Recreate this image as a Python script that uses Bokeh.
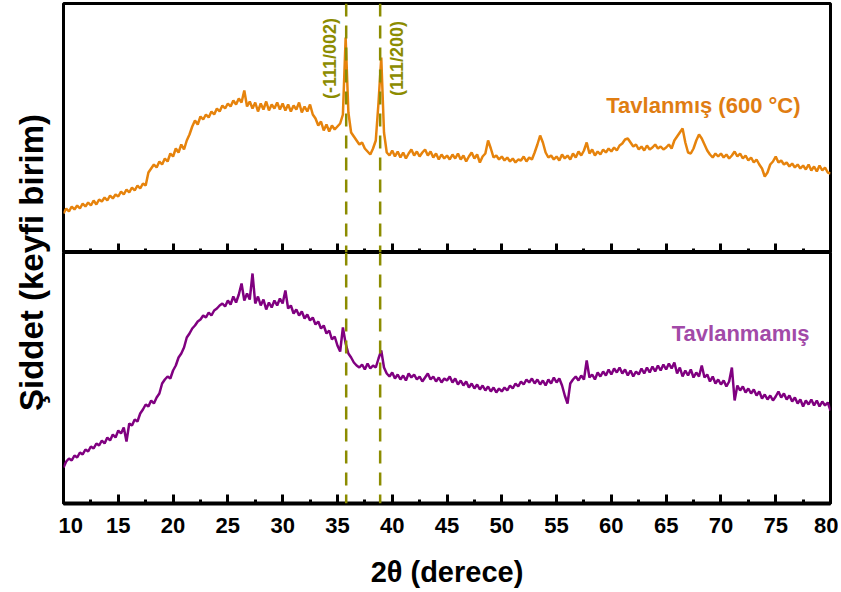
import numpy as np
from bokeh.plotting import figure
from bokeh.layouts import column, row
from bokeh.models import Span, Range1d, FixedTicker
from bokeh.core.properties import value
from bokeh.embed import file_html
from bokeh.resources import INLINE

# ---------------- data ----------------
two_theta = np.arange(10, 80.001, 0.25)

annealed_600C = [
    39, 44, 41, 46, 43, 47, 44, 49, 46, 50, 47, 52, 48, 53, 51, 55, 52, 57, 54, 58,
    56, 61, 58, 63, 60, 65, 62, 67, 64, 69, 67, 80, 84, 88, 85, 91, 88, 94, 91, 99,
    96, 104, 100, 108, 103, 112, 118, 126, 132, 128, 136, 133, 138, 135, 141, 138, 144, 141, 147, 144,
    149, 146, 152, 148, 154, 150, 162, 146, 151, 144, 150, 141, 149, 143, 151, 142, 148, 144, 150, 143,
    149, 142, 148, 141, 147, 143, 150, 140, 146, 141, 148, 138, 134, 127, 131, 122, 128, 121, 127, 123,
    126, 129, 138, 215, 140, 120, 116, 112, 108, 110, 104, 101, 98, 104, 112, 150, 195, 120, 100, 97,
    102, 96, 101, 95, 100, 94, 99, 103, 97, 101, 96, 100, 103, 97, 101, 95, 99, 93, 98, 94,
    97, 93, 98, 94, 99, 93, 97, 91, 96, 100, 94, 98, 90, 96, 99, 112, 104, 95, 97, 93,
    96, 92, 95, 91, 94, 90, 93, 92, 96, 91, 95, 93, 100, 108, 117, 110, 100, 95, 97, 93,
    96, 92, 98, 94, 97, 93, 99, 95, 101, 97, 102, 110, 99, 103, 97, 101, 98, 103, 100, 104,
    101, 105, 102, 107, 109, 113, 114, 110, 106, 108, 103, 106, 102, 107, 103, 105, 108, 104, 106, 103,
    105, 108, 104, 112, 116, 120, 124, 110, 100, 99, 104, 112, 118, 114, 108, 102, 98, 95, 99, 96,
    99, 95, 98, 94, 97, 101, 96, 99, 94, 97, 92, 95, 90, 93, 88, 84, 76, 80, 88, 91,
    96, 90, 92, 88, 90, 86, 89, 85, 88, 84, 87, 83, 88, 82, 86, 81, 87, 82, 85, 80,
    79,
]

unannealed = [
    36, 42, 45, 43, 48, 46, 51, 49, 54, 52, 57, 55, 60, 58, 63, 60, 66, 63, 69, 66,
    73, 70, 76, 62, 80, 78, 84, 82, 90, 94, 99, 97, 103, 100, 106, 110, 120, 124, 127, 125,
    133, 138, 146, 150, 156, 166, 170, 175, 178, 182, 184, 188, 186, 191, 188, 193, 195, 198, 200, 197,
    203, 199, 207, 201, 209, 220, 203, 210, 204, 230, 200, 207, 198, 204, 194, 201, 196, 203, 198, 205,
    200, 213, 195, 198, 190, 194, 188, 192, 185, 189, 183, 186, 179, 182, 175, 178, 170, 173, 164, 167,
    158, 152, 176, 160, 150, 146, 141, 138, 136, 139, 134, 140, 135, 138, 136, 145, 153, 136, 130, 127,
    131, 125, 129, 124, 128, 123, 130, 126, 129, 124, 127, 122, 126, 130, 124, 127, 122, 126, 121, 125,
    123, 127, 121, 125, 119, 123, 118, 122, 116, 120, 115, 119, 114, 118, 113, 117, 112, 116, 111, 115,
    112, 116, 113, 118, 115, 120, 117, 122, 119, 124, 121, 125, 120, 124, 119, 123, 118, 124, 120, 126,
    121, 125, 118, 108, 100, 120, 124, 127, 123, 128, 124, 143, 126, 129, 124, 131, 127, 132, 128, 134,
    129, 135, 131, 136, 130, 134, 128, 133, 127, 132, 129, 135, 130, 136, 131, 137, 132, 138, 133, 139,
    134, 140, 135, 141, 130, 136, 127, 133, 128, 134, 126, 131, 127, 138, 126, 129, 122, 127, 120, 124,
    119, 123, 117, 122, 136, 103, 118, 113, 117, 111, 115, 110, 114, 108, 112, 105, 109, 104, 108, 103,
    107, 112, 106, 110, 104, 108, 102, 106, 100, 104, 97, 103, 99, 104, 98, 103, 97, 102, 98, 101,
    93,
]

peak_positions = [35.8, 38.9]
peak_labels = ["(-111/002)", "(111/200)"]
major_ticks = [10, 15, 20, 25, 30, 35, 40, 45, 50, 55, 60, 65, 70, 75, 80]
minor_ticks = [12.5, 17.5, 22.5, 27.5, 32.5, 37.5, 42.5, 47.5, 52.5, 57.5, 62.5, 67.5, 72.5, 77.5]

x_title = "2θ (derece)"
y_title = "Şiddet (keyfi birim)"
annealed_name = "Tavlanmış (600 °C)"
unannealed_name = "Tavlanmamış"

# ---------------- style ----------------
FONT = value("Liberation Sans")
ORANGE = "#E6830C"
ORANGE_TXT = "#E07D12"
PURPLE = "#800080"
PURPLE_TXT = "#A24AA8"
OLIVE = "#8C8C00"

W_LAB = 58
W_PLOT = 780
H1 = 252
H2 = 338
H_TOTAL = H1 + H2


def style_panel(p, show_labels):
    p.xgrid.visible = False
    p.ygrid.visible = False
    p.yaxis.visible = False
    p.outline_line_color = "black"
    p.outline_line_width = 3
    p.outline_line_alpha = 1
    p.min_border_left = 5
    p.min_border_right = 8
    p.min_border_top = 3 if not show_labels else 0
    p.min_border_bottom = 0
    ax = p.xaxis[0]
    ax.ticker = FixedTicker(ticks=major_ticks, minor_ticks=minor_ticks)
    ax.axis_line_width = 4
    ax.axis_line_color = "black"
    ax.major_tick_in = 9
    ax.major_tick_out = 0
    ax.minor_tick_in = 4
    ax.minor_tick_out = 0
    ax.major_tick_line_width = 3
    ax.minor_tick_line_width = 3
    ax.major_tick_line_color = "black"
    ax.minor_tick_line_color = "black"
    if show_labels:
        ax.major_label_text_font = "Liberation Sans"
        ax.major_label_text_font_style = "bold"
        ax.major_label_text_font_size = "22px"
        ax.major_label_text_color = "black"
        ax.major_label_standoff = 14
        ax.axis_label = x_title
        ax.axis_label_text_font = "Liberation Sans"
        ax.axis_label_text_font_style = "bold"
        ax.axis_label_text_font_size = "29px"
        ax.axis_label_text_color = "black"
        ax.axis_label_standoff = 20
    else:
        ax.major_label_overrides = {t: "" for t in major_ticks}
        ax.major_label_text_font_size = "0px"
        ax.major_label_standoff = 0


# top panel: annealed
p1 = figure(width=W_PLOT, height=H1, x_range=Range1d(10, 80), y_range=Range1d(0, 249),
            toolbar_location=None, output_backend="svg")
style_panel(p1, False)
p1.line(two_theta, annealed_600C, line_color=ORANGE, line_width=2.5)
for pos in peak_positions:
    p1.add_layout(Span(location=pos, dimension="height", line_color=OLIVE,
                       line_width=2.5, line_dash="13 9"))
offsets = [-1.45, 1.55]
for pos, lab_txt, off in zip(peak_positions, peak_labels, offsets):
    p1.text(x=[pos + off], y=[194], text=[lab_txt], angle=np.pi / 2, text_align="center",
            text_baseline="middle", text_color=OLIVE, text_font=FONT,
            text_font_style="bold", text_font_size="18px")
p1.text(x=[68.4], y=[147], text=[annealed_name], text_align="center", text_baseline="middle",
        text_color=ORANGE_TXT, text_font=FONT, text_font_style="bold", text_font_size="22px")

# bottom panel: unannealed
p2 = figure(width=W_PLOT, height=H2, x_range=p1.x_range, y_range=Range1d(0, 251),
            toolbar_location=None, output_backend="svg")
style_panel(p2, True)
p2.line(two_theta, unannealed, line_color=PURPLE, line_width=2.5)
for pos in peak_positions:
    p2.add_layout(Span(location=pos, dimension="height", line_color=OLIVE,
                       line_width=2.5, line_dash="13 9"))
p2.text(x=[71.8], y=[170], text=[unannealed_name], text_align="center", text_baseline="middle",
        text_color=PURPLE_TXT, text_font=FONT, text_font_style="bold", text_font_size="22px")

# y-axis title column
lab = figure(width=W_LAB, height=H_TOTAL, x_range=Range1d(0, W_LAB), y_range=Range1d(0, H_TOTAL),
             toolbar_location=None, output_backend="svg", min_border=0)
lab.axis.visible = False
lab.grid.visible = False
lab.outline_line_color = None
lab.text(x=[31], y=[H_TOTAL - 262], text=[y_title], angle=np.pi / 2, text_align="center",
         text_baseline="middle", text_color="black", text_font=FONT, text_font_style="bold",
         text_font_size="33px")

layout = row(lab, column(p1, p2, spacing=0), spacing=0)

open("out.html", "w").write(file_html(layout, INLINE))
